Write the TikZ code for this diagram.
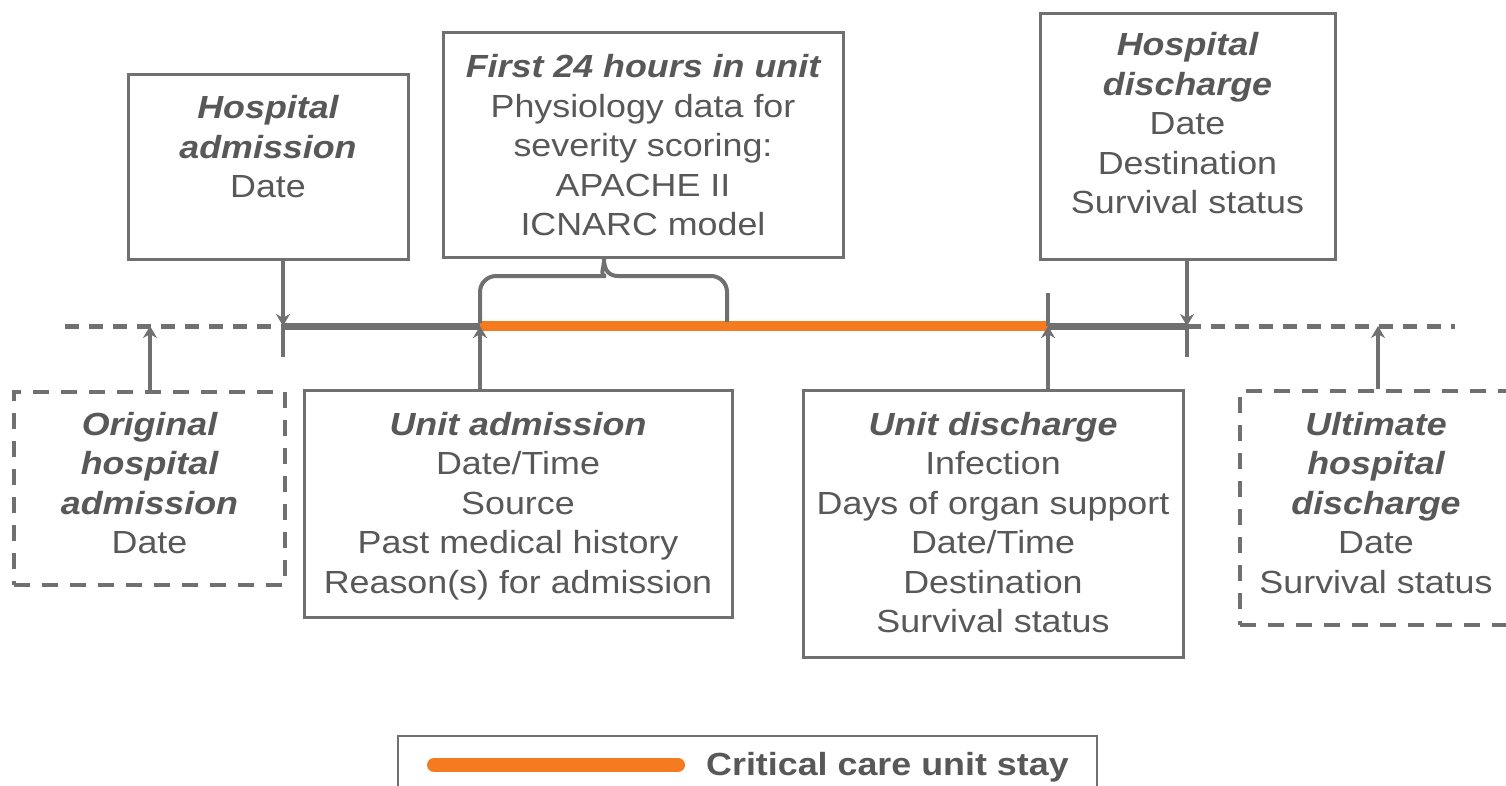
\documentclass[tikz,border=0pt]{standalone}
\usepackage{fontspec}
\setmainfont[FakeStretch=1.12]{Liberation Sans}
\usetikzlibrary{arrows.meta}
\definecolor{lgray}{HTML}{707070}
\definecolor{tgray}{HTML}{585858}
\definecolor{ccorange}{HTML}{F47B20}
\tikzset{
  box/.style={draw=lgray, line width=3pt, inner sep=0pt},
  dbox/.style={draw=lgray, line width=4pt, dash pattern=on 16pt off 12pt, inner sep=0pt},
  txt/.style={text=tgray, align=center, inner sep=0pt, anchor=base, font=\fontsize{32}{39.5}\selectfont},
  conn/.style={draw=lgray, line width=4pt, -{Stealth[length=12pt,width=14pt]}},
  tick/.style={draw=lgray, line width=4pt},
  tline/.style={draw=lgray, line width=7pt},
  dline/.style={draw=lgray, line width=5pt, dash pattern=on 14pt off 10pt},
}
\begin{document}
\begin{tikzpicture}[x=1pt,y=-1pt]
\useasboundingbox (0,0) rectangle (1506,786);
\fill[white] (0,0) rectangle (1506,786);
% boxes
\node[box, minimum width=280pt, minimum height=185pt] (ha) at (268,167.5) {};
\node[box, minimum width=400pt, minimum height=225pt] (f24) at (643,145.5) {};
\node[box, minimum width=295pt, minimum height=246pt] (hdis) at (1187.5,137) {};
\node[dbox, minimum width=271pt, minimum height=193pt] (oha) at (149.5,488.5) {};
\node[box, minimum width=428pt, minimum height=227pt] (ua) at (518,503.5) {};
\node[box, minimum width=380pt, minimum height=267pt] (ud) at (993,523.5) {};
\node[dbox, minimum width=272pt, minimum height=234pt] (uhd) at (1376,508) {};
% texts (anchor base = baseline of the last line)
\node[txt] (haT) at (268,198) {{\bfseries\itshape Hospital}\\{\bfseries\itshape admission}\\Date};
\node[txt] (f24T) at (643,236) {{\bfseries\itshape First 24 hours in unit}\\Physiology data for\\severity scoring:\\APACHE II\\ICNARC model};
\node[txt] (hdisT) at (1187.5,214) {{\bfseries\itshape Hospital}\\{\bfseries\itshape discharge}\\Date\\Destination\\Survival status};
\node[txt] (ohaT) at (149.5,553.5) {{\bfseries\itshape Original}\\{\bfseries\itshape hospital}\\{\bfseries\itshape admission}\\Date};
\node[txt] (uaT) at (518,593) {{\bfseries\itshape Unit admission}\\Date/Time\\Source\\Past medical history\\Reason(s) for admission};
\node[txt] (udT) at (993,632.5) {{\bfseries\itshape Unit discharge}\\Infection\\Days of organ support\\Date/Time\\Destination\\Survival status};
\node[txt] (uhdT) at (1376,593) {{\bfseries\itshape Ultimate}\\{\bfseries\itshape hospital}\\{\bfseries\itshape discharge}\\Date\\Survival status};
% timeline coordinates
\coordinate (t0) at (65,326);
\coordinate (tA) at (150,326);
\coordinate (t1) at (283,326);
\coordinate (t2) at (480,326);
\coordinate (t3) at (1048,326);
\coordinate (t4) at (1187,326);
\coordinate (tB) at (1378,326);
\coordinate (t5) at (1455,326);
\coordinate (k1) at (283,357);
\coordinate (k3) at (1048,293);
\coordinate (k4) at (1187,357);
% timeline
\draw[dline] (t0) -- (t1);
\draw[dline] (t4) -- (t5);
\draw[tline] (t1) -- (t2);
\draw[tline] (t3) -- (t4);
\draw[ccorange, line width=10pt] (t2) -- (t3);
% ticks
\draw[tick] (t1) -- (k1);
\draw[tick] (k3) -- (t3);
\draw[tick] (t4) -- (k4);
% connectors
\draw[conn] (ha.south -| t1) -- (t1);
\draw[conn] (hdis.south -| t4) -- (t4);
\draw[conn] (oha.north -| tA) -- (tA);
\draw[conn] (uhd.north -| tB) -- (tB);
\draw[conn] (ua.north -| t2) -- (t2);
\draw[conn] (ud.north -| t3) -- (t3);
% brace
\coordinate (bL) at (480,323);
\coordinate (bR) at (727,322);
\coordinate (bP) at (604,259);
\draw[lgray, line width=4pt] (bL) [rounded corners=16pt] -- (480,276) -- (590,276) [sharp corners] .. controls (599,276) and (604,270) .. (bP) .. controls (604,270) and (609,276) .. (618,276) [rounded corners=16pt] -- (727,276) -- (bR);
% legend
\node[draw=lgray, line width=1.5pt, minimum width=699pt, minimum height=80pt, inner sep=0pt] (leg) at (747.5,776) {};
\coordinate (lg1) at (434,765);
\coordinate (lg2) at (678,765);
\draw[ccorange, line width=14pt, line cap=round] (lg1) -- (lg2);
\node[text=tgray, anchor=west, inner sep=0pt, font=\fontsize{32}{38}\selectfont\bfseries] (legT) at (706,767) {Critical care unit stay};
\end{tikzpicture}
\end{document}
